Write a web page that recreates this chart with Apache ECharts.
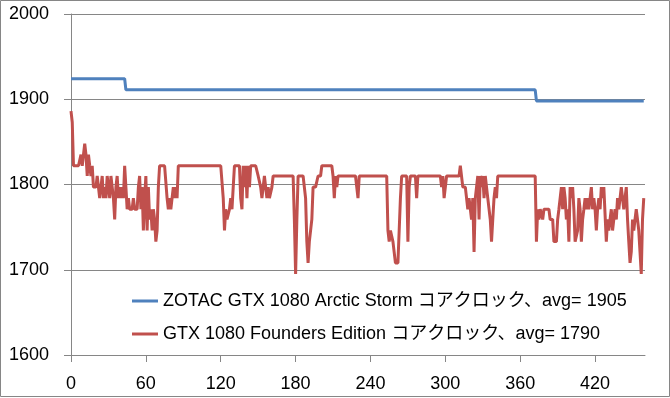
<!DOCTYPE html>
<html>
<head>
<meta charset="utf-8">
<script src="https://cdn.jsdelivr.net/npm/echarts@6/dist/echarts.min.js"></script>
<style>
  html, body { margin: 0; padding: 0; background: #fff; }
  #chart { width: 670px; height: 398px; }
</style>
</head>
<body>
<div id="chart"></div>
<script>
// tick labels on the x axis (seconds)
var xTicks = [0, 60, 120, 180, 240, 300, 360, 420];

var seriesNames = [
  'ZOTAC GTX 1080 Arctic Storm コアクロック、avg= 1905',
  'GTX 1080 Founders Edition コアクロック、avg= 1790'
];

// ZOTAC: steps of the boost clock
var blueX = [0, 43, 44, 372, 373, 459];
var blueY = [1924, 1924, 1911, 1911, 1898, 1898];

// Founders Edition: one value per second
var redY = [
  1886,1873,1822,1822,1822,1822,1822,1822,1835,1822,
  1835,1848,1835,1810,1835,1822,1810,1822,1797,1797,
  1797,1810,1797,1784,1797,1810,1784,1797,1784,1810,
  1797,1784,1810,1797,1784,1759,1797,1810,1784,1797,
  1784,1797,1784,1822,1797,1771,1784,1771,1771,1771,
  1784,1771,1771,1771,1797,1810,1771,1797,1746,1784,
  1810,1746,1797,1759,1771,1746,1771,1759,1733,1746,
  1797,1822,1822,1822,1822,1822,1822,1784,1771,1784,
  1771,1784,1797,1784,1797,1784,1822,1822,1822,1822,
  1822,1822,1822,1822,1822,1822,1822,1822,1822,1822,
  1822,1822,1822,1822,1822,1822,1822,1822,1822,1822,
  1822,1822,1822,1822,1822,1822,1822,1822,1822,1822,
  1822,1822,1784,1746,1771,1759,1759,1771,1784,1771,
  1797,1822,1822,1822,1822,1822,1784,1771,1822,1797,
  1822,1784,1822,1797,1822,1822,1822,1822,1822,1822,
  1810,1810,1797,1784,1784,1810,1797,1784,1797,1784,
  1784,1797,1810,1810,1810,1810,1810,1810,1810,1810,
  1810,1810,1810,1810,1810,1810,1810,1810,1810,1759,
  1695,1759,1810,1810,1810,1810,1810,1810,1784,1733,
  1708,1733,1733,1759,1797,1797,1797,1797,1810,1810,
  1810,1822,1822,1822,1822,1822,1822,1822,1822,1822,
  1810,1784,1810,1797,1810,1810,1810,1810,1810,1810,
  1810,1810,1810,1810,1810,1810,1810,1810,1810,1810,
  1784,1810,1810,1810,1810,1810,1810,1810,1810,1810,
  1810,1810,1810,1810,1810,1810,1810,1810,1810,1810,
  1810,1810,1810,1810,1746,1733,1746,1746,1733,1733,
  1708,1708,1708,1746,1784,1810,1810,1810,1810,1810,
  1733,1797,1810,1810,1810,1810,1810,1784,1810,1810,
  1810,1810,1810,1810,1810,1810,1810,1810,1810,1810,
  1810,1810,1810,1810,1810,1810,1810,1797,1810,1784,
  1797,1810,1810,1810,1810,1810,1810,1810,1810,1810,
  1810,1810,1822,1822,1797,1797,1797,1784,1771,1784,
  1784,1759,1784,1721,1784,1797,1810,1759,1810,1797,
  1810,1784,1810,1797,1784,1784,1759,1733,1759,1784,
  1797,1784,1810,1810,1810,1810,1810,1810,1810,1810,
  1810,1810,1810,1810,1810,1810,1810,1810,1810,1810,
  1810,1810,1810,1810,1810,1810,1810,1810,1810,1810,
  1810,1810,1810,1733,1771,1759,1771,1771,1759,1771,
  1771,1771,1771,1771,1759,1759,1759,1733,1733,1733,
  1759,1771,1784,1797,1771,1797,1784,1759,1771,1733,
  1797,1784,1797,1771,1733,1733,1746,1784,1771,1733,
  1759,1771,1784,1771,1784,1771,1784,1797,1771,1784,
  1771,1746,1771,1784,1771,1797,1784,1797,1797,1733,
  1759,1746,1759,1771,1746,1759,1771,1759,1784,1771,
  1784,1797,1784,1771,1784,1797,1759,1733,1708,1721,
  1759,1746,1759,1771,1759,1746,1721,1695,1759,1784
];

var gray = '#868686';
var font = '"Liberation Sans", "Noto Sans CJK JP", sans-serif';

var myChart = echarts.init(document.getElementById('chart'));

var blueData = blueX.map(function (x, i) { return [x, blueY[i]]; });
var redData = redY.map(function (y, i) { return [i, y]; });

myChart.setOption({
  animation: false,
  backgroundColor: '#fff',
  graphic: [{
    type: 'rect',
    shape: { x: 0.5, y: 0.5, width: 669, height: 396 },
    style: { fill: 'none', stroke: gray, lineWidth: 1 },
    silent: true
  }],
  grid: { left: 71, right: 25, top: 14, bottom: 43 },
  legend: {
    orient: 'vertical',
    left: 127,
    top: 287,
    itemGap: 15,
    itemWidth: 26,
    itemHeight: 3,
    icon: 'rect',
    data: seriesNames,
    textStyle: { color: '#000', fontSize: 18, fontFamily: font }
  },
  xAxis: {
    type: 'value',
    min: 0,
    max: 460,
    interval: 60,
    axisLine: { lineStyle: { color: gray } },
    axisTick: { show: true, length: 7, lineStyle: { color: gray }, customValues: xTicks },
    axisLabel: { color: '#000', fontSize: 18, fontFamily: font, margin: 20, customValues: xTicks },
    splitLine: { show: false }
  },
  yAxis: {
    type: 'value',
    min: 1600,
    max: 2000,
    interval: 100,
    axisLine: { show: true, lineStyle: { color: gray } },
    axisTick: { show: true, length: 7, lineStyle: { color: gray } },
    axisLabel: {
      color: '#000', fontSize: 18, fontFamily: font, margin: 22,
      formatter: function (v) { return String(v); }
    },
    splitLine: { lineStyle: { color: gray } }
  },
  series: [
    {
      name: seriesNames[0],
      type: 'line',
      data: blueData,
      showSymbol: false,
      symbol: 'none',
      itemStyle: { color: '#4F81BD' },
      lineStyle: { color: '#4F81BD', width: 3 }
    },
    {
      name: seriesNames[1],
      type: 'line',
      data: redData,
      showSymbol: false,
      symbol: 'none',
      itemStyle: { color: '#C0504D' },
      lineStyle: { color: '#C0504D', width: 3 }
    }
  ]
});
</script>
</body>
</html>
